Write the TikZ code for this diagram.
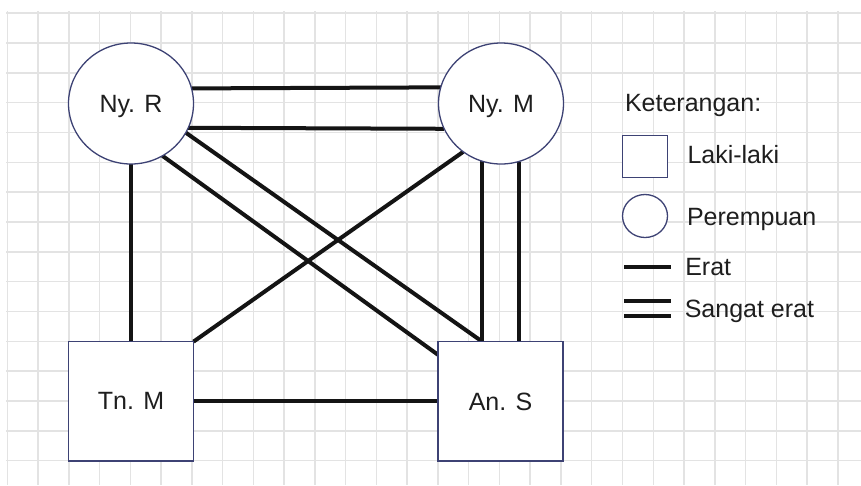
\documentclass[tikz,border=0pt]{standalone}
\usepackage{fontspec}
\setmainfont{Liberation Sans}
\usetikzlibrary{shapes.geometric,calc}
\definecolor{navy}{HTML}{3D4274}
\definecolor{gridc}{HTML}{E3E3E3}
\definecolor{txt}{HTML}{1E1E1E}
\pgfdeclarelayer{bg}
\pgfdeclarelayer{edges}
\pgfsetlayers{bg,edges,main}
\begin{document}
\begin{tikzpicture}[x=1pt,y=-1pt,
  person/.style={draw=navy,line width=1.3pt,fill=white,inner sep=0pt,outer sep=0pt,text=txt,font=\fontsize{25}{30}\selectfont,text depth=0pt},
  fem/.style={person,ellipse,minimum width=125pt,minimum height=121pt},
  male/.style={person,rectangle,minimum width=125pt,minimum height=119.3pt},
  tie/.style={line width=4pt,draw=black!92},
  lab/.style={anchor=base west,inner sep=0pt,outer sep=0pt,text=txt,font=\fontsize{25}{30}\selectfont},
  gridline/.style={draw=gridc,line width=1.5pt}]
\useasboundingbox (0,0) rectangle (861,485);
% grid
\begin{pgfonlayer}{bg}
\fill[white] (0,0) rectangle (861,485);
\foreach \k in {0,...,27}{
  \pgfmathsetmacro\gx{7.3+30.76*\k}
  \draw[gridline] (\gx,11) -- (\gx,485);
}
\foreach \k in {0,...,15}{
  \pgfmathsetmacro\gy{13.2+29.83*\k}
  \draw[gridline] (6,\gy) -- (861,\gy);
}
\end{pgfonlayer}
% persons
\node[fem] (nyr) at (131,103.5) {Ny. R};
\node[fem] (nym) at (501,103.5) {Ny. M};
\node[male] (tnm) at (131,401.3) {Tn. M};
\node[male] (ans) at (500.5,401.3) {An. S};
\coordinate (pA) at (nym.252.7 |- ans.north);
\coordinate (pB) at (nym.-73.7 |- ans.north);
\coordinate (pC) at ($(ans.north west)!0.11!(ans.south west)$);
% relations
\begin{pgfonlayer}{edges}
\draw[tie] (nyr.14.8) -- (nym.165.2);
\draw[tie] (nyr.-23.5) -- (nym.-156.5);
\draw[tie] (nyr.south) -- (tnm.north);
\draw[tie] (nyr.-28) -- (pA);
\draw[tie] (nyr.-59) -- (pC);
\draw[tie] (nym.232) -- (tnm.north east);
\draw[tie] (nym.252.7) -- (pA);
\draw[tie] (nym.-73.7) -- (pB);
\draw[tie] (tnm.east) -- (ans.west);
\end{pgfonlayer}
% legend
\node[lab] (ket) at (625,111) {Keterangan:};
\node[person,rectangle,minimum width=45.4pt,minimum height=41.6pt] (lsq) at (645,156.5) {};
\node[lab] (llk) at (687.5,163) {Laki-laki};
\node[person,ellipse,minimum width=45pt,minimum height=43pt] (lci) at (645,216) {};
\node[lab] (lpr) at (687,225) {Perempuan};
\coordinate (e1a) at (624,267.3);
\coordinate (e1b) at (670.7,267.3);
\draw[tie] (e1a) -- (e1b);
\node[lab] (ler) at (685.3,275) {Erat};
\coordinate (s1a) at (624,301);
\coordinate (s1b) at (670.7,301);
\coordinate (s2a) at (624,316);
\coordinate (s2b) at (670.7,316);
\draw[tie] (s1a) -- (s1b);
\draw[tie] (s2a) -- (s2b);
\node[lab] (lse) at (684.8,317.3) {Sangat erat};
\end{tikzpicture}
\end{document}
